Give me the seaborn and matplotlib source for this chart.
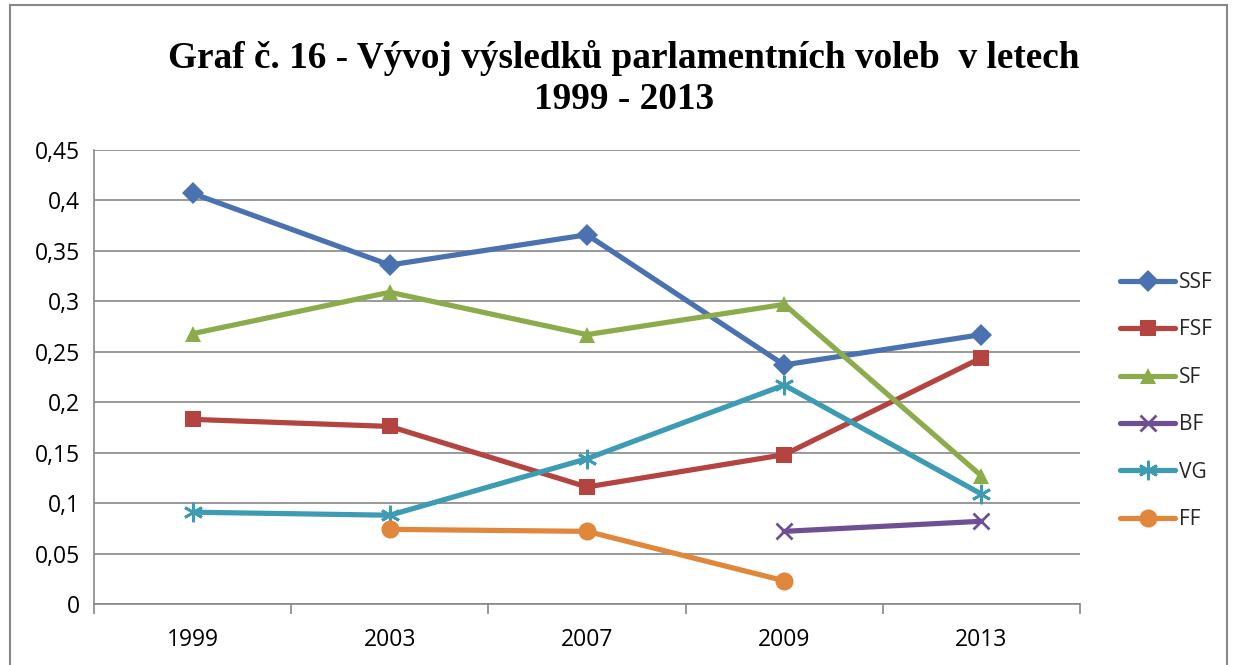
import pandas as pd
import matplotlib.pyplot as plt
import seaborn as sns
from matplotlib.ticker import FuncFormatter, MultipleLocator, FixedLocator
from matplotlib.patches import Rectangle

# --- data ---
roky = ['1999', '2003', '2007', '2009', '2013']
ssf = [0.407, 0.336, 0.366, 0.237, 0.267]
fsf = [0.183, 0.176, 0.116, 0.148, 0.244]
sf = [0.268, 0.309, 0.267, 0.297, 0.127]
bf = [None, None, None, 0.072, 0.082]
vg = [0.091, 0.088, 0.144, 0.217, 0.109]
ff = [None, 0.074, 0.072, 0.023, None]

serie = {'SSF': ssf, 'FSF': fsf, 'SF': sf, 'BF': bf, 'VG': vg, 'FF': ff}
barvy = {'SSF': '#4a72b0', 'FSF': '#b3443f', 'SF': '#8cac4c',
         'BF': '#6f4f93', 'VG': '#3d9bb4', 'FF': '#e0873b'}
znacky = {'SSF': 'D', 'FSF': 's', 'SF': '^', 'BF': 'x', 'VG': (6, 2, 0), 'FF': 'o'}
velikosti = {'SSF': 11, 'FSF': 12, 'SF': 12, 'BF': 12, 'VG': 14, 'FF': 13}

sns.set_style("white")
plt.rcParams['font.family'] = ['Open Sans', 'DejaVu Sans']

fig = plt.figure(figsize=(12.33, 6.65), dpi=100)
ax = fig.add_axes([94 / 1233, 1 - 604 / 665, (1080 - 94) / 1233, (604 - 150) / 665])

for nazev, hodnoty in serie.items():
    df = pd.DataFrame({'x': range(len(roky)), 'y': hodnoty}).dropna()
    marker = znacky[nazev]
    filled = marker != 'x' and not isinstance(marker, tuple)
    sns.lineplot(data=df, x='x', y='y', ax=ax, color=barvy[nazev], linewidth=3.75,
                 marker=marker, markersize=velikosti[nazev],
                 markeredgewidth=2 if not filled else 0,
                 markeredgecolor=barvy[nazev], label=nazev)

ax.set_xlim(-0.5, len(roky) - 0.5)
ax.set_ylim(0, 0.45)
ax.yaxis.set_major_locator(MultipleLocator(0.05))
ax.yaxis.set_major_formatter(FuncFormatter(
    lambda v, p: f'{v:.2f}'.rstrip('0').rstrip('.').replace('.', ',') if v else '0'))
ax.set_xticks(range(len(roky)))
ax.set_xticklabels(roky)
ax.xaxis.set_minor_locator(FixedLocator([i - 0.5 for i in range(len(roky) + 1)]))
ax.set_xlabel('')
ax.set_ylabel('')
ax.tick_params(axis='both', which='both', labelsize=16.5, colors='black', length=6,
               width=1.2, color='#888888', direction='out')
ax.tick_params(axis='x', which='major', length=0, pad=17)
ax.tick_params(axis='x', which='minor', length=7, bottom=True)
ax.tick_params(axis='y', pad=4)
ax.grid(axis='y', color='#888888', linewidth=1.2)
ax.set_axisbelow(True)
for s in ['top', 'right']:
    ax.spines[s].set_visible(False)
for s in ['left', 'bottom']:
    ax.spines[s].set_color('#888888')
    ax.spines[s].set_linewidth(1.2)

ax.legend(loc='center left', bbox_to_anchor=(1.0406, 0.447), frameon=False,
          fontsize=15, handlelength=2.64, labelspacing=1.27, handletextpad=0.2,
          borderpad=0, borderaxespad=0)

fig.text(0.506, 0.882, 'Graf č. 16 - Vývoj výsledků parlamentních voleb  v letech\n1999 - 2013',
         ha='center', va='center', fontsize=26.8, fontweight='bold', color='black',
         family=['Liberation Serif', 'DejaVu Serif'], linespacing=1.2)

fig.patches.append(Rectangle((10 / 1233, -0.02), 1 - 16 / 1233, 1.02 - 5 / 665,
                             transform=fig.transFigure, fill=False,
                             edgecolor='#888888', linewidth=1.5))

plt.savefig('out.png', dpi=100)
